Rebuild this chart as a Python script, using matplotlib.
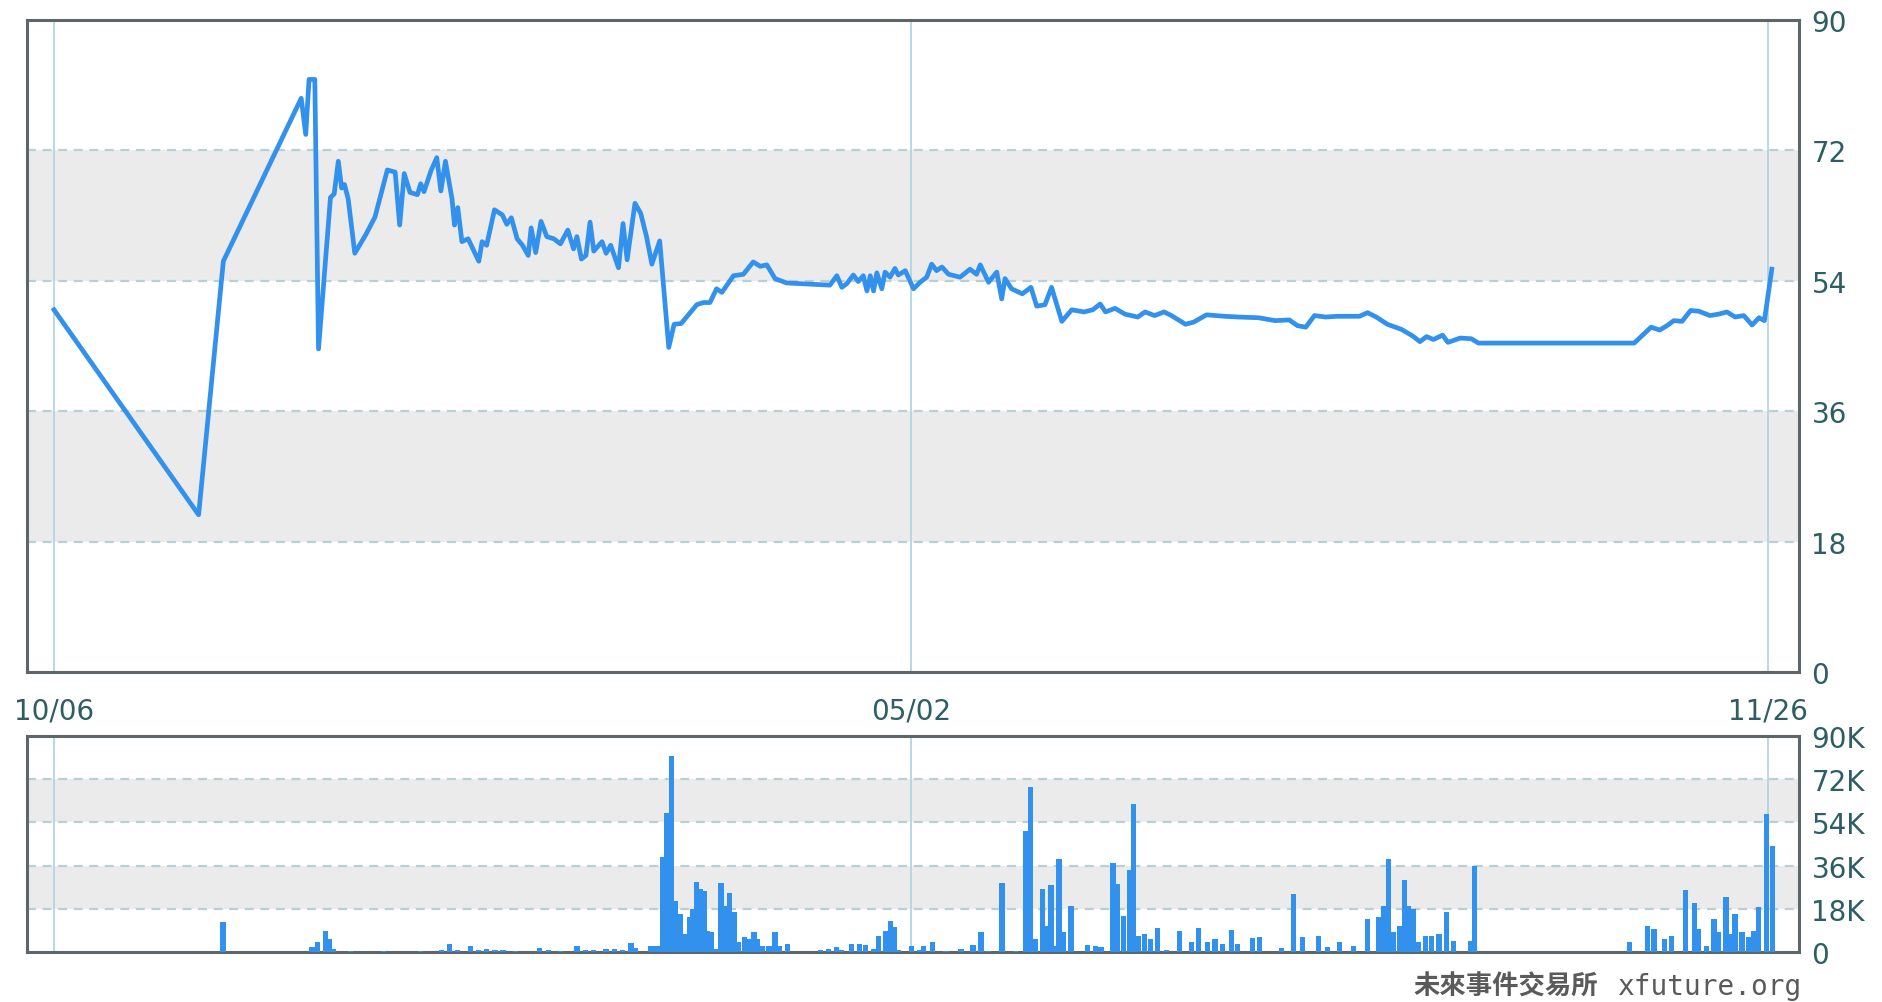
import matplotlib
matplotlib.use('Agg')
import matplotlib.pyplot as plt
import numpy as np

# days counted from 10/06, price in cents-ish (0-90), volume in thousands
price_day = [0, 35.1, 41.1, 60.0, 61.1, 61.9, 63.3, 64.2, 67.1, 68.0, 69.0, 69.8, 70.5, 71.4,
             73.0, 75.7, 77.9, 80.9, 82.8, 83.9, 85.0, 86.4, 88.2, 89.0, 89.8, 91.5, 92.9,
             93.9, 95.0, 96.6, 97.2, 98.0, 99.0, 100.5, 103.1, 103.9, 105.0, 106.9, 108.8,
             109.9, 111.0, 112.4, 113.7, 115.1, 115.8, 116.9, 118.2, 119.6, 121.3, 122.9,
             124.7, 126.1, 126.9, 128.0, 129.1, 130.1, 131.0, 133.0, 134.0, 135.1, 137.0,
             138.1, 139.1, 141.0, 142.4, 143.8, 145.1, 147.0, 149.2, 150.5, 152.2, 156.0,
             157.6, 159.2, 160.8, 162.1, 164.9, 167.3, 169.7, 171.4, 173.0, 175.0, 177.8,
             188.3, 190.0, 191.2, 192.4, 194.0, 195.2, 196.4, 197.3, 198.1, 198.9, 199.7,
             200.9, 201.7, 202.9, 204.1, 204.9, 206.6, 208.6, 210.2, 211.8, 213.0, 214.2,
             215.5, 217.1, 219.9, 222.3, 223.9, 224.8, 226.8, 228.8, 230.0, 230.8, 232.4,
             235.0, 237.1, 238.5, 240.5, 242.1, 244.6, 247.0, 250.0, 252.1, 253.9, 255.2,
             257.5, 259.9, 263.0, 264.8, 267.1, 269.4, 271.2, 274.6, 276.6, 279.7, 284.1,
             287.5, 292.3, 296.4, 299.8, 301.8, 303.8, 305.9, 308.6, 311.4, 316.8, 318.8,
             320.9, 323.6, 327.0, 329.7, 331.5, 333.1, 334.8, 337.0, 338.3, 341.3, 344.0,
             345.7, 383.5, 387.6, 389.7, 391.7, 393.1, 395.1, 397.2, 399.2, 401.9, 404.0,
             406.0, 408.0, 410.1, 412.1, 413.8, 415.1, 416.9]
price_val = [50.0, 21.7, 56.7, 79.2, 74.2, 81.8, 81.8, 44.6, 65.5, 66.0, 70.5, 66.8, 67.3, 65.3,
             57.8, 60.4, 62.8, 69.3, 69.0, 61.7, 68.8, 66.2, 65.9, 67.4, 66.3, 69.2, 71.0,
             66.4, 70.5, 65.3, 61.7, 64.1, 59.4, 59.8, 56.7, 59.4, 58.9, 63.8, 63.1,
             61.8, 62.7, 59.8, 58.9, 57.5, 61.3, 57.9, 62.2, 60.1, 59.8, 59.1,
             61.0, 58.4, 60.1, 57.0, 57.5, 62.1, 58.1, 59.4, 57.8, 58.9, 55.8,
             61.9, 56.9, 64.7, 63.3, 60.1, 56.3, 59.5, 44.8, 48.0, 48.1, 50.7,
             51.0, 51.0, 52.9, 52.4, 54.7, 54.9, 56.6, 56.0, 56.2, 54.3, 53.7,
             53.4, 54.7, 53.1, 53.6, 54.8, 53.9, 54.7, 52.6, 54.7, 52.6, 55.1,
             52.9, 55.2, 54.5, 55.7, 54.8, 55.4, 52.9, 53.8, 54.5, 56.3, 55.4,
             55.9, 54.9, 54.5, 55.6, 54.9, 56.2, 53.8, 55.2, 51.5, 54.3, 52.9,
             52.2, 53.1, 50.5, 50.7, 53.1, 48.4, 50.0, 49.7, 50.0, 50.8, 49.7,
             50.2, 49.4, 49.0, 49.7, 49.2, 49.7, 49.2, 48.0, 48.3, 49.3, 49.1,
             49.0, 48.9, 48.5, 48.6, 47.8, 47.6, 49.2, 49.0, 49.1, 49.1, 49.6,
             49.0, 48.0, 47.3, 46.4, 45.6, 46.3, 45.9, 46.5, 45.5, 46.1, 46.0,
             45.4, 45.4, 47.6, 47.2, 47.9, 48.5, 48.4, 49.9, 49.8, 49.2, 49.4,
             49.7, 49.0, 49.2, 47.9, 48.9, 48.5, 55.6]

vol_day = [41.0, 62.6, 63.9, 65.9, 66.8, 67.7, 72, 80, 89, 94, 96.0, 98, 101.1, 103, 105, 107,
           109, 112, 117.9, 120, 123, 126.9, 129, 131, 134, 136, 138, 140.0, 141, 144.8,
           145.8, 146.7, 147.7, 148.7, 149.9, 150.9, 152.1, 153.1, 154.2, 155.0, 156.0,
           156.8, 157.9, 158.6, 159.6, 160.6, 161.9, 162.9, 164.0, 165.0, 166.2, 167.6,
           168.6, 169.9, 170.8, 171.8, 173.5, 175.0, 176.0, 178.0, 186, 188, 189.9, 191,
           193.5, 195.5, 197, 199, 200.1, 201.9, 203.0, 204.0, 205, 208.1, 210, 211, 213.2,
           216.5, 220.1, 223, 225.0, 226.7, 230.1, 233.3, 235.9, 237.0, 238.1, 239.9, 241.0,
           242.0, 243.1, 243.9, 244.9, 246.8, 250.8, 252.7, 254.1, 257.0, 258.1, 259.5,
           261.0, 262.0, 263.2, 264.6, 266.1, 267.8, 270, 273.1, 276.0, 277.7, 279.9, 281.8,
           283.6, 285.8, 287.2, 290.9, 292.6, 297.9, 300.8, 303.0, 306.9, 309.1, 312.0,
           315.4, 318.8, 321.5, 322.7, 323.9, 325.1, 326.6, 327.7, 328.8, 330.0, 331.0,
           332.9, 334.3, 336.1, 337.9, 339.7, 343.7, 344.8, 382.4, 386.8, 388.3, 390.8,
           392.6, 395.9, 398.1, 399.1, 401.0, 402.9, 403.9, 405.8, 406.8, 408.0, 409.7,
           411.2, 412.6, 413.7, 415.6, 417.1]
vol_k = [12.4, 2.0, 4.3, 8.9, 5.4, 1.2, 0.5, 0.4, 0.6, 0.8, 3.3, 0.7, 2.4, 1.0, 1.3, 0.8,
         1.0, 0.5, 1.8, 0.8, 0.6, 2.6, 1.0, 0.9, 1.1, 1.3, 0.8, 3.8, 1.5, 2.6,
         2.6, 2.6, 39.4, 57.9, 81.8, 21.4, 15.8, 7.5, 14.4, 17.9, 29.3,
         26.3, 25.6, 8.9, 8.2, 1.2, 28.8, 19.3, 24.6, 16.5, 4.0, 6.1,
         5.4, 8.2, 5.4, 2.6, 2.6, 8.2, 2.6, 3.3, 0.8, 1.2, 1.9, 1.0,
         3.3, 3.3, 2.9, 1.2, 6.8, 8.9, 13.1, 10.3, 1.0, 2.6, 0.8, 2.4, 4.0,
         0.6, 1.2, 2.9, 8.2, 0.6, 28.8, 0.6, 50.6, 68.6, 5.4, 26.3, 11.0,
         27.9, 2.6, 38.8, 8.2, 19.3, 2.9, 2.4, 2.0, 37.1, 28.3, 15.1,
         34.3, 61.7, 6.8, 7.5, 5.4, 9.9, 1.0, 8.9, 4.0, 9.9, 4.0, 5.4,
         3.3, 9.3, 3.3, 5.7, 6.1, 1.5, 24.2, 6.1, 6.8, 2.0, 4.3,
         2.6, 13.8, 14.4, 19.3, 38.8, 8.2, 11.0, 30.1, 19.3, 17.9, 4.0,
         6.8, 6.8, 7.5, 16.5, 4.7, 4.7, 36.0, 4.0, 11.0, 9.6, 5.4,
         6.5, 26.0, 20.4, 9.6, 2.6, 13.8, 8.2, 22.8, 7.5, 15.8, 8.2,
         6.1, 8.9, 18.6, 57.5, 44.3]

date_ticks = [0, 208, 416]
date_labels = ['10/06', '05/02', '11/26']
price_ticks = [0, 18, 36, 54, 72, 90]
vol_ticks = [0, 18, 36, 54, 72, 90]
vol_labels = ['0', '18K', '36K', '54K', '72K', '90K']

blue = '#3391ee'
txt = '#2e5e62'
frame = '#5d6669'

fig = plt.figure(figsize=(18.82, 10.03), dpi=100)
ax1 = fig.add_axes([27/1882, 1-673/1003, 1772/1882, 652/1003])
ax2 = fig.add_axes([27/1882, 1-953/1003, 1772/1882, 216/1003])

for ax, ticks in ((ax1, price_ticks), (ax2, vol_ticks)):
    ax.set_xlim(-6.55, 423.5)
    ax.set_ylim(0, 90)
    ax.axhspan(18, 36, color='#ebebeb', zorder=0, lw=0)
    ax.axhspan(54, 72, color='#ebebeb', zorder=0, lw=0)
    for t in ticks[1:-1]:
        ax.axhline(t, color='#b9cfd5', lw=1.6, dashes=(4, 3), zorder=1)
    for d in date_ticks:
        ax.axvline(d, color='#a9d3df', lw=1.2, zorder=1)
    ax.yaxis.tick_right()
    ax.set_yticks(ticks)
    ax.set_xticks(date_ticks)
    ax.tick_params(length=0, labelsize=20, labelcolor=txt, pad=9)
    for s in ax.spines.values():
        s.set_color(frame)
        s.set_linewidth(2.2)

ax1.plot(price_day, price_val, color=blue, lw=3.4, zorder=3, solid_joinstyle='round')
ax1.set_xticklabels(date_labels)
ax1.tick_params(axis='x', pad=18)

ax2.bar(vol_day, vol_k, width=1.3, color=blue, zorder=3, lw=0)
ax2.set_yticklabels(vol_labels)
ax2.set_xticklabels([])

fig.text(1802/1882, 1-987/1003, 'xfuture.org', ha='right', va='center', fontsize=20,
         family='DejaVu Sans Mono', color='#5a5a5a')
fig.text(1598/1882, 1-987/1003, '未來事件交易所', ha='right', va='center', fontsize=19,
         family=['Noto Sans CJK TC', 'DejaVu Sans'], weight='bold', color='#5a5a5a')

fig.savefig('out.png', dpi=100)
